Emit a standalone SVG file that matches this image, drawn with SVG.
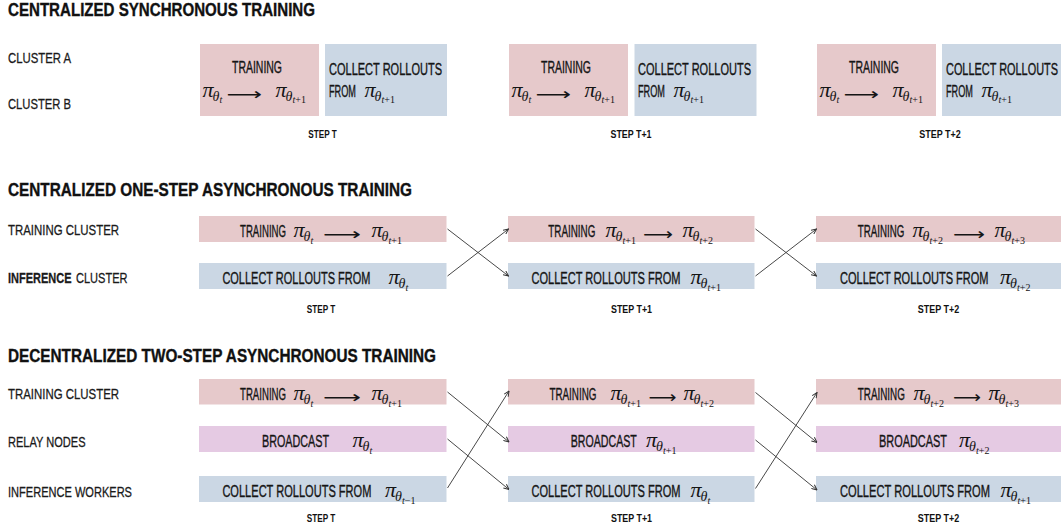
<svg xmlns="http://www.w3.org/2000/svg" width="1061" height="527" viewBox="0 0 1061 527">
  <style>
    .ttl { font-family: "Liberation Sans Narrow", "Liberation Sans", Arial, sans-serif; font-weight: bold; font-size: 17.5px; fill: #111; stroke: #111; stroke-width: 0.35px; }
    .lbl { font-family: "Liberation Sans Narrow", "Liberation Sans", Arial, sans-serif; font-size: 15.5px; fill: #1a1a1a; stroke: #1a1a1a; stroke-width: 0.3px; }
    .lbl-b { font-weight: bold; }
    .bx { font-family: "Liberation Sans Narrow", "Liberation Sans", Arial, sans-serif; font-size: 16px; fill: #151515; stroke: #151515; stroke-width: 0.35px; }
    .stp { font-family: "Liberation Sans Narrow", "Liberation Sans", Arial, sans-serif; font-weight: bold; font-size: 11.5px; fill: #111; }
    .m { font-family: "Liberation Serif", "DejaVu Serif", serif; fill: #151515; }
    .pi { font-style: italic; font-size: 22px; }
    .th { font-style: italic; font-size: 14px; }
    .ss { font-style: italic; font-size: 10px; }
    .up { font-style: normal; }
    .arr { font-family: "DejaVu Sans", sans-serif; font-size: 17px; fill: #151515; }
    .pink { fill: #e6c9cb; }
    .blue { fill: #cbd7e4; }
    .purp { fill: #e5cae3; }
    .cn line { stroke: #333; stroke-width: 0.9; marker-end: url(#ah); }
  </style>
  <defs>
    <marker id="ah" viewBox="0 0 6 6" refX="5.6" refY="3" markerWidth="6" markerHeight="6" markerUnits="userSpaceOnUse" orient="auto">
      <path d="M0.3,0.6 L5.6,3 L0.3,5.4" fill="none" stroke="#333" stroke-width="1"/>
    </marker>
  </defs>
  <rect width="1061" height="527" fill="#fff"/>

  <!-- ===== Section 1: centralized synchronous ===== -->
  <text class="ttl" x="8" y="16" textLength="307" lengthAdjust="spacingAndGlyphs">CENTRALIZED SYNCHRONOUS TRAINING</text>
  <text class="lbl" x="8" y="63" textLength="63" lengthAdjust="spacingAndGlyphs">CLUSTER A</text>
  <text class="lbl" x="8" y="108.5" textLength="63" lengthAdjust="spacingAndGlyphs">CLUSTER B</text>

  <g id="s1-train-t">
    <rect class="pink" x="200" y="44" width="119" height="72"/>
    <text class="bx" x="257" y="73" text-anchor="middle" textLength="50" lengthAdjust="spacingAndGlyphs">TRAINING</text>
    <text class="m"><tspan class="pi" x="202.5" y="96.5">π</tspan><tspan class="th" x="212.5" y="100.5">θ</tspan><tspan class="ss" x="219.5" y="103">t</tspan><tspan class="pi" x="275.5" y="96.5">π</tspan><tspan class="th" x="285.5" y="100.5">θ</tspan><tspan class="ss" x="292.5" y="103">t<tspan class="up">+1</tspan></tspan></text>
    <text class="arr" x="226.5" y="99.5" textLength="35.5" lengthAdjust="spacingAndGlyphs">⟶</text>
  </g>
  <g id="s1-rollout-t">
    <rect class="blue" x="325" y="44" width="122" height="72"/>
    <text class="bx" x="329" y="75" textLength="113" lengthAdjust="spacingAndGlyphs">COLLECT ROLLOUTS</text>
    <text class="bx" x="329" y="96.7" textLength="27" lengthAdjust="spacingAndGlyphs">FROM</text>
    <text class="m"><tspan class="pi" x="364.5" y="96.5">π</tspan><tspan class="th" x="374.5" y="100.5">θ</tspan><tspan class="ss" x="381.5" y="103">t<tspan class="up">+1</tspan></tspan></text>
  </g>
  <g id="s1-train-t1">
    <rect class="pink" x="509" y="44" width="119" height="72"/>
    <text class="bx" x="566" y="73" text-anchor="middle" textLength="50" lengthAdjust="spacingAndGlyphs">TRAINING</text>
    <text class="m"><tspan class="pi" x="511.5" y="96.5">π</tspan><tspan class="th" x="521.5" y="100.5">θ</tspan><tspan class="ss" x="528.5" y="103">t</tspan><tspan class="pi" x="584.5" y="96.5">π</tspan><tspan class="th" x="594.5" y="100.5">θ</tspan><tspan class="ss" x="601.5" y="103">t<tspan class="up">+1</tspan></tspan></text>
    <text class="arr" x="535.5" y="99.5" textLength="35.5" lengthAdjust="spacingAndGlyphs">⟶</text>
  </g>
  <g id="s1-rollout-t1">
    <rect class="blue" x="634.5" y="44" width="122" height="72"/>
    <text class="bx" x="638" y="75" textLength="113" lengthAdjust="spacingAndGlyphs">COLLECT ROLLOUTS</text>
    <text class="bx" x="638" y="96.7" textLength="27" lengthAdjust="spacingAndGlyphs">FROM</text>
    <text class="m"><tspan class="pi" x="673.5" y="96.5">π</tspan><tspan class="th" x="683.5" y="100.5">θ</tspan><tspan class="ss" x="690.5" y="103">t<tspan class="up">+1</tspan></tspan></text>
  </g>
  <g id="s1-train-t2">
    <rect class="pink" x="817" y="44" width="119" height="72"/>
    <text class="bx" x="874" y="73" text-anchor="middle" textLength="50" lengthAdjust="spacingAndGlyphs">TRAINING</text>
    <text class="m"><tspan class="pi" x="819.5" y="96.5">π</tspan><tspan class="th" x="829.5" y="100.5">θ</tspan><tspan class="ss" x="836.5" y="103">t</tspan><tspan class="pi" x="892.5" y="96.5">π</tspan><tspan class="th" x="902.5" y="100.5">θ</tspan><tspan class="ss" x="909.5" y="103">t<tspan class="up">+1</tspan></tspan></text>
    <text class="arr" x="843.5" y="99.5" textLength="35.5" lengthAdjust="spacingAndGlyphs">⟶</text>
  </g>
  <g id="s1-rollout-t2">
    <rect class="blue" x="942" y="44" width="122" height="72"/>
    <text class="bx" x="946" y="75" textLength="112" lengthAdjust="spacingAndGlyphs">COLLECT ROLLOUTS</text>
    <text class="bx" x="946" y="96.7" textLength="27" lengthAdjust="spacingAndGlyphs">FROM</text>
    <text class="m"><tspan class="pi" x="981.5" y="96.5">π</tspan><tspan class="th" x="991.5" y="100.5">θ</tspan><tspan class="ss" x="998.5" y="103">t<tspan class="up">+1</tspan></tspan></text>
  </g>
  <text class="stp" x="322.5" y="137.5" text-anchor="middle" textLength="28.5" lengthAdjust="spacingAndGlyphs">STEP T</text>
  <text class="stp" x="631" y="137.5" text-anchor="middle" textLength="41" lengthAdjust="spacingAndGlyphs">STEP T+1</text>
  <text class="stp" x="940" y="137.5" text-anchor="middle" textLength="41.5" lengthAdjust="spacingAndGlyphs">STEP T+2</text>

  <!-- ===== Section 2: centralized one-step asynchronous ===== -->
  <text class="ttl" x="8" y="195.5" textLength="404" lengthAdjust="spacingAndGlyphs">CENTRALIZED ONE-STEP ASYNCHRONOUS TRAINING</text>
  <text class="lbl" x="8" y="235" textLength="111" lengthAdjust="spacingAndGlyphs">TRAINING CLUSTER</text>
  <text class="lbl" y="282.5"><tspan class="lbl-b" x="8" textLength="63.5" lengthAdjust="spacingAndGlyphs">INFERENCE</tspan><tspan x="76" textLength="51.5" lengthAdjust="spacingAndGlyphs">CLUSTER</tspan></text>

  <g id="s2-train-t">
    <rect class="pink" x="199" y="216" width="247.5" height="26"/>
    <text class="bx" x="240" y="237" textLength="46" lengthAdjust="spacingAndGlyphs">TRAINING</text>
    <text class="m"><tspan class="pi" x="293.5" y="237">π</tspan><tspan class="th" x="303.5" y="241">θ</tspan><tspan class="ss" x="310.5" y="243.5">t</tspan><tspan class="pi" x="371.5" y="237">π</tspan><tspan class="th" x="381.5" y="241">θ</tspan><tspan class="ss" x="388.5" y="243.5">t<tspan class="up">+1</tspan></tspan></text>
    <text class="arr" x="323" y="240" textLength="38" lengthAdjust="spacingAndGlyphs">⟶</text>
  </g>
  <g id="s2-rollout-t">
    <rect class="blue" x="199" y="263" width="247.5" height="26"/>
    <text class="bx" x="222.4" y="284" textLength="148" lengthAdjust="spacingAndGlyphs">COLLECT ROLLOUTS FROM</text>
    <text class="m"><tspan class="pi" x="388.5" y="284">π</tspan><tspan class="th" x="398.5" y="288">θ</tspan><tspan class="ss" x="405.5" y="290.5">t</tspan></text>
  </g>
  <g id="s2-train-t1">
    <rect class="pink" x="508" y="216" width="246.5" height="26"/>
    <text class="bx" x="548.3" y="237" textLength="47" lengthAdjust="spacingAndGlyphs">TRAINING</text>
    <text class="m"><tspan class="pi" x="605.5" y="237">π</tspan><tspan class="th" x="615.5" y="241">θ</tspan><tspan class="ss" x="622.5" y="243.5">t<tspan class="up">+1</tspan></tspan><tspan class="pi" x="682.5" y="237">π</tspan><tspan class="th" x="692.5" y="241">θ</tspan><tspan class="ss" x="699.5" y="243.5">t<tspan class="up">+2</tspan></tspan></text>
    <text class="arr" x="643" y="240" textLength="30" lengthAdjust="spacingAndGlyphs">⟶</text>
  </g>
  <g id="s2-rollout-t1">
    <rect class="blue" x="508" y="263" width="246.5" height="26"/>
    <text class="bx" x="531.5" y="284" textLength="149" lengthAdjust="spacingAndGlyphs">COLLECT ROLLOUTS FROM</text>
    <text class="m"><tspan class="pi" x="690.5" y="284">π</tspan><tspan class="th" x="700.5" y="288">θ</tspan><tspan class="ss" x="707.5" y="290.5">t<tspan class="up">+1</tspan></tspan></text>
  </g>
  <g id="s2-train-t2">
    <rect class="pink" x="816" y="216" width="246" height="26"/>
    <text class="bx" x="857.8" y="237" textLength="46.5" lengthAdjust="spacingAndGlyphs">TRAINING</text>
    <text class="m"><tspan class="pi" x="912.5" y="237">π</tspan><tspan class="th" x="922.5" y="241">θ</tspan><tspan class="ss" x="929.5" y="243.5">t<tspan class="up">+2</tspan></tspan><tspan class="pi" x="994.5" y="237">π</tspan><tspan class="th" x="1004.5" y="241">θ</tspan><tspan class="ss" x="1011.5" y="243.5">t<tspan class="up">+3</tspan></tspan></text>
    <text class="arr" x="953" y="240" textLength="32" lengthAdjust="spacingAndGlyphs">⟶</text>
  </g>
  <g id="s2-rollout-t2">
    <rect class="blue" x="816" y="263" width="246" height="26"/>
    <text class="bx" x="840" y="284" textLength="148.5" lengthAdjust="spacingAndGlyphs">COLLECT ROLLOUTS FROM</text>
    <text class="m"><tspan class="pi" x="1000" y="284">π</tspan><tspan class="th" x="1010" y="288">θ</tspan><tspan class="ss" x="1017" y="290.5">t<tspan class="up">+2</tspan></tspan></text>
  </g>
  <text class="stp" x="321" y="313" text-anchor="middle" textLength="28.5" lengthAdjust="spacingAndGlyphs">STEP T</text>
  <text class="stp" x="631.5" y="313" text-anchor="middle" textLength="41" lengthAdjust="spacingAndGlyphs">STEP T+1</text>
  <text class="stp" x="938.5" y="313" text-anchor="middle" textLength="41.5" lengthAdjust="spacingAndGlyphs">STEP T+2</text>

  <!-- ===== Section 3: decentralized two-step asynchronous ===== -->
  <text class="ttl" x="8" y="361.5" textLength="428" lengthAdjust="spacingAndGlyphs">DECENTRALIZED TWO-STEP ASYNCHRONOUS TRAINING</text>
  <text class="lbl" x="8" y="398.5" textLength="111" lengthAdjust="spacingAndGlyphs">TRAINING CLUSTER</text>
  <text class="lbl" x="8" y="446.5" textLength="77.5" lengthAdjust="spacingAndGlyphs">RELAY NODES</text>
  <text class="lbl" x="8" y="496.5" textLength="124" lengthAdjust="spacingAndGlyphs">INFERENCE WORKERS</text>

  <g id="s3-train-t">
    <rect class="pink" x="199" y="379" width="247.5" height="25.5"/>
    <text class="bx" x="240" y="400" textLength="46" lengthAdjust="spacingAndGlyphs">TRAINING</text>
    <text class="m"><tspan class="pi" x="293.5" y="400">π</tspan><tspan class="th" x="303.5" y="404">θ</tspan><tspan class="ss" x="310.5" y="406.5">t</tspan><tspan class="pi" x="371.5" y="400">π</tspan><tspan class="th" x="381.5" y="404">θ</tspan><tspan class="ss" x="388.5" y="406.5">t<tspan class="up">+1</tspan></tspan></text>
    <text class="arr" x="323" y="403" textLength="38" lengthAdjust="spacingAndGlyphs">⟶</text>
  </g>
  <g id="s3-relay-t">
    <rect class="purp" x="199" y="426" width="247.5" height="26"/>
    <text class="bx" x="262" y="447" textLength="67" lengthAdjust="spacingAndGlyphs">BROADCAST</text>
    <text class="m"><tspan class="pi" x="352.5" y="447">π</tspan><tspan class="th" x="362.5" y="451">θ</tspan><tspan class="ss" x="369.5" y="453.5">t</tspan></text>
  </g>
  <g id="s3-rollout-t">
    <rect class="blue" x="199" y="476" width="247.5" height="26"/>
    <text class="bx" x="222.4" y="497" textLength="149" lengthAdjust="spacingAndGlyphs">COLLECT ROLLOUTS FROM</text>
    <text class="m"><tspan class="pi" x="385" y="497">π</tspan><tspan class="th" x="395" y="501">θ</tspan><tspan class="ss" x="402" y="503.5">t<tspan class="up">−1</tspan></tspan></text>
  </g>
  <g id="s3-train-t1">
    <rect class="pink" x="508" y="379" width="246.5" height="25.5"/>
    <text class="bx" x="549.4" y="400" textLength="47" lengthAdjust="spacingAndGlyphs">TRAINING</text>
    <text class="m"><tspan class="pi" x="610.5" y="400">π</tspan><tspan class="th" x="620.5" y="404">θ</tspan><tspan class="ss" x="627.5" y="406.5">t<tspan class="up">+1</tspan></tspan><tspan class="pi" x="683.5" y="400">π</tspan><tspan class="th" x="693.5" y="404">θ</tspan><tspan class="ss" x="700.5" y="406.5">t<tspan class="up">+2</tspan></tspan></text>
    <text class="arr" x="648.5" y="403" textLength="28" lengthAdjust="spacingAndGlyphs">⟶</text>
  </g>
  <g id="s3-relay-t1">
    <rect class="purp" x="508" y="426" width="246.5" height="26"/>
    <text class="bx" x="570.8" y="447" textLength="66" lengthAdjust="spacingAndGlyphs">BROADCAST</text>
    <text class="m"><tspan class="pi" x="646" y="447">π</tspan><tspan class="th" x="656" y="451">θ</tspan><tspan class="ss" x="663" y="453.5">t<tspan class="up">+1</tspan></tspan></text>
  </g>
  <g id="s3-rollout-t1">
    <rect class="blue" x="508" y="476" width="246.5" height="26"/>
    <text class="bx" x="531.5" y="497" textLength="149" lengthAdjust="spacingAndGlyphs">COLLECT ROLLOUTS FROM</text>
    <text class="m"><tspan class="pi" x="690.5" y="497">π</tspan><tspan class="th" x="700.5" y="501">θ</tspan><tspan class="ss" x="707.5" y="503.5">t</tspan></text>
  </g>
  <g id="s3-train-t2">
    <rect class="pink" x="816" y="379" width="246" height="25.5"/>
    <text class="bx" x="857.8" y="400" textLength="47" lengthAdjust="spacingAndGlyphs">TRAINING</text>
    <text class="m"><tspan class="pi" x="913.5" y="400">π</tspan><tspan class="th" x="923.5" y="404">θ</tspan><tspan class="ss" x="930.5" y="406.5">t<tspan class="up">+2</tspan></tspan><tspan class="pi" x="988.5" y="400">π</tspan><tspan class="th" x="998.5" y="404">θ</tspan><tspan class="ss" x="1005.5" y="406.5">t<tspan class="up">+3</tspan></tspan></text>
    <text class="arr" x="953" y="403" textLength="28" lengthAdjust="spacingAndGlyphs">⟶</text>
  </g>
  <g id="s3-relay-t2">
    <rect class="purp" x="816" y="426" width="246" height="26"/>
    <text class="bx" x="879" y="447" textLength="68" lengthAdjust="spacingAndGlyphs">BROADCAST</text>
    <text class="m"><tspan class="pi" x="959" y="447">π</tspan><tspan class="th" x="969" y="451">θ</tspan><tspan class="ss" x="976" y="453.5">t<tspan class="up">+2</tspan></tspan></text>
  </g>
  <g id="s3-rollout-t2">
    <rect class="blue" x="816" y="476" width="246" height="26"/>
    <text class="bx" x="840" y="497" textLength="150" lengthAdjust="spacingAndGlyphs">COLLECT ROLLOUTS FROM</text>
    <text class="m"><tspan class="pi" x="1000.5" y="497">π</tspan><tspan class="th" x="1010.5" y="501">θ</tspan><tspan class="ss" x="1017.5" y="503.5">t<tspan class="up">+1</tspan></tspan></text>
  </g>
  <text class="stp" x="321" y="522" text-anchor="middle" textLength="28.5" lengthAdjust="spacingAndGlyphs">STEP T</text>
  <text class="stp" x="631.5" y="522" text-anchor="middle" textLength="41" lengthAdjust="spacingAndGlyphs">STEP T+1</text>
  <text class="stp" x="938.5" y="522" text-anchor="middle" textLength="41.5" lengthAdjust="spacingAndGlyphs">STEP T+2</text>

  <!-- ===== Connectors: weight hand-offs between steps ===== -->
  <g id="connectors" class="cn">
    <line x1="447.5" y1="229" x2="508.5" y2="276"/>
    <line x1="447.5" y1="276" x2="508.5" y2="229"/>
    <line x1="755.5" y1="229" x2="816.5" y2="276"/>
    <line x1="755.5" y1="276" x2="816.5" y2="229"/>

    <line x1="447.5" y1="392" x2="509" y2="442"/>
    <line x1="447.5" y1="439" x2="509" y2="489.5"/>
    <line x1="447.5" y1="488" x2="509" y2="391"/>
    <line x1="755.5" y1="392.5" x2="817" y2="442.5"/>
    <line x1="755.5" y1="440" x2="817" y2="490"/>
    <line x1="755.5" y1="488.5" x2="817" y2="392.5"/>
  </g>
</svg>
